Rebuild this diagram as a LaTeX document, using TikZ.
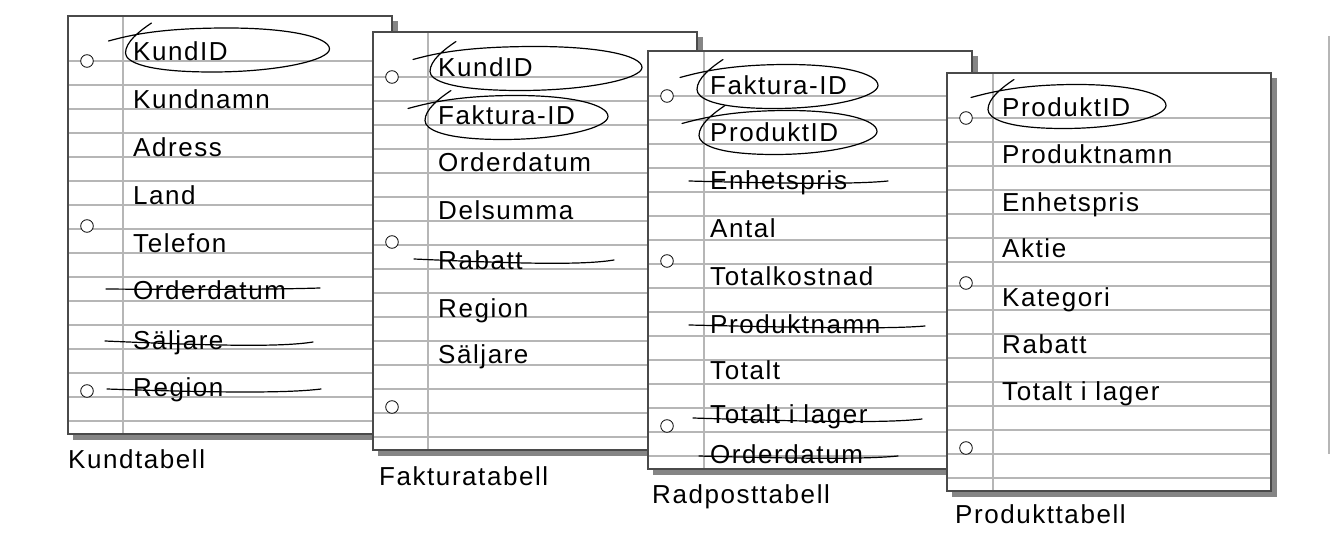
\documentclass[tikz,border=0pt]{standalone}
\usepackage{fontspec}
\setmainfont{Liberation Sans}[LetterSpace=6]
\definecolor{ruling}{HTML}{B6B6B6}
\definecolor{shadowgray}{HTML}{858585}
\definecolor{edgegray}{HTML}{4A4A4A}
\tikzset{
  item/.style={anchor=base west, inner sep=0pt, font=\fontsize{26}{30}\selectfont},
  ink/.style={draw=black, line width=1.2pt, line cap=round},
  ruleline/.style={draw=ruling, line width=1.5pt},
  pageedge/.style={draw=edgegray, line width=1.3pt},
  hole/.style={draw=black, fill=white, line width=0.8pt},
}
\newcommand\paperpage[3]{% left, top, margin offset
  \fill[shadowgray] ({#1+5},{#2+5}) rectangle ({#1+330},{#2+424});
  \fill[white] (#1,#2) rectangle ({#1+324},{#2+418});
  \foreach \k in {0,...,15} \draw[ruleline] (#1,{#2+45+24*\k}) -- ({#1+324},{#2+45+24*\k});
  \draw[ruleline] ({#1+#3},#2) -- ({#1+#3},{#2+418});
  \draw[pageedge] (#1,#2) rectangle ({#1+324},{#2+418});
  \foreach \o in {45,210,375} \draw[hole] ({#1+19},{#2+\o}) circle (6.3pt);
}
\newcommand\handcircle[3]{% cx, cy, rx
  \begin{scope}[shift={(#1,#2)}]
  \draw[ink] ({-#3-17},-9) .. controls ({-#3+5},-15) and ({-#3+35},-22) .. (0,-22)
    .. controls ({0.6*#3},-22) and (#3,-13) .. (#3,-1)
    .. controls (#3,10) and ({0.5*#3},22) .. ({-0.15*#3},22)
    .. controls ({-0.8*#3},22) and (-#3,12) .. (-#3,3)
    .. controls (-#3,-8) and ({-#3+14},-19) .. ({-#3+26},-27);
  \end{scope}}
\newcommand\strikeout[5]{% x1,y1,x2,y2,sag
  \draw[ink] (#1,#2) .. controls ({0.45*#1+0.55*#3},{#2+#5}) and ({0.15*#1+0.85*#3},{#4+#5}) .. (#3,#4);}
\begin{document}
\begin{tikzpicture}[x=1pt,y=-1pt]
\useasboundingbox (0,0) rectangle (1342,540);
% Page 1
\paperpage{68}{16}{55}
\node[item] (k1) at (133,61) {KundID};
\node[item] (k2) at (133,109) {Kundnamn};
\node[item] (k3) at (133,157) {Adress};
\node[item] (k4) at (133,205) {Land};
\node[item] (k5) at (133,253) {Telefon};
\node[item] (k6) at (133,300) {Orderdatum};
\node[item] (k7) at (133,349) {Säljare};
\node[item] (k8) at (133,396) {Region};
\handcircle{227.5}{50}{102}
\strikeout{106}{289}{320}{288}{1}
\strikeout{105}{341}{313}{342}{5}
\strikeout{107}{389}{321}{389}{4}
\node[item] (l1) at (68,468) {Kundtabell};
% Page 2
\paperpage{373}{32}{55}
\node[item] (f1) at (438,77) {KundID};
\node[item] (f2) at (438,125) {Faktura-ID};
\node[item] (f3) at (438,172) {Orderdatum};
\node[item] (f4) at (438,220) {Delsumma};
\node[item] (f5) at (438,270) {Rabatt};
\node[item] (f6) at (438,317) {Region};
\node[item] (f7) at (438,363) {Säljare};
\handcircle{536}{68.5}{106}
\handcircle{516.5}{117.5}{91.5}
\strikeout{414}{259}{614}{260}{5}
\node[item] (l2) at (379,485) {Fakturatabell};
% Page 3
\paperpage{648}{51}{56}
\node[item] (r1) at (710,95) {Faktura-ID};
\node[item] (r2) at (710,142) {ProduktID};
\node[item] (r3) at (710,190) {Enhetspris};
\node[item] (r4) at (710,238) {Antal};
\node[item] (r5) at (710,286) {Totalkostnad};
\node[item] (r6) at (710,333) {Produktnamn};
\node[item] (r7) at (710,379) {Totalt};
\node[item] (r8) at (710,423) {Totalt i lager};
\node[item] (r9) at (710,463) {Orderdatum};
\handcircle{787.5}{86.5}{90.5}
\handcircle{788}{132.5}{89}
\strikeout{689}{181}{888}{181}{3}
\strikeout{689}{325}{925}{326}{3}
\strikeout{693}{418}{922}{419}{4}
\strikeout{699}{456}{898}{456}{3}
\node[item] (l3) at (652,503) {Radposttabell};
% Page 4
\paperpage{947}{73}{46}
\node[item] (p1) at (1002,117) {ProduktID};
\node[item] (p2) at (1002,164) {Produktnamn};
\node[item] (p3) at (1002,212) {Enhetspris};
\node[item] (p4) at (1002,258) {Aktie};
\node[item] (p5) at (1002,306) {Kategori};
\node[item] (p6) at (1002,353) {Rabatt};
\node[item] (p7) at (1002,400) {Totalt i lager};
\handcircle{1077}{106.5}{89}
\node[item] (l4) at (955,523) {Produkttabell};
% right rule
\draw[ruleline, line width=2pt] (1329,36) -- (1329,454);
\end{tikzpicture}
\end{document}
